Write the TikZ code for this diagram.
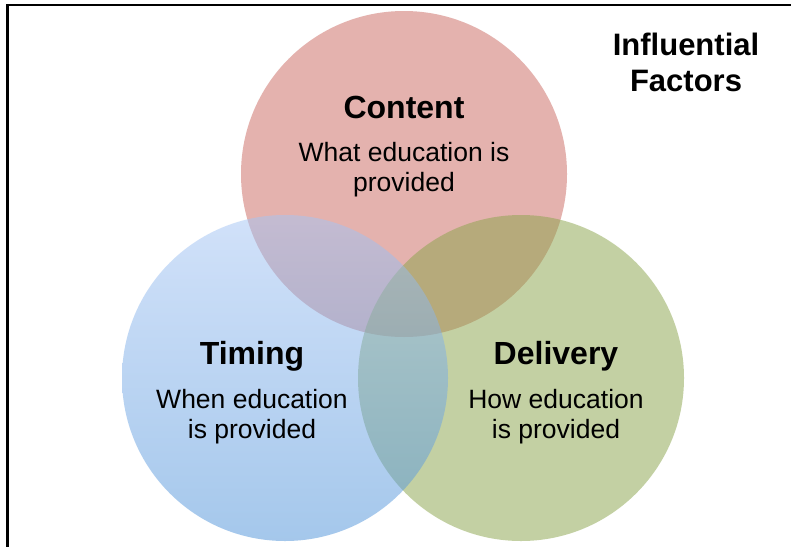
\documentclass[tikz,border=0pt]{standalone}
\usepackage{fontspec}
\setmainfont{Liberation Sans}
\definecolor{contentfill}{RGB}{228,178,174}
\definecolor{deliverybase}{RGB}{137,163,73}
\definecolor{timingtop}{RGB}{165,197,245}
\definecolor{timingbot}{RGB}{75,145,217}
\tikzset{
  venn/.style={circle, minimum size=326pt, inner sep=0pt, draw=none},
  titletext/.style={font=\bfseries\fontsize{32}{36}\selectfont, anchor=base, inner sep=0pt},
  bodytext/.style={font=\fontsize{26.5}{29.5}\selectfont, align=center, anchor=base, inner sep=0pt},
  headtext/.style={font=\bfseries\fontsize{31}{36}\selectfont, align=center, anchor=base, inner sep=0pt},
}
\begin{document}
\begin{tikzpicture}[x=1pt,y=-1pt]
\useasboundingbox (0,0) rectangle (791,546);
\clip (0,0) rectangle (791,546);
\fill[white] (0,0) rectangle (791,546);
\draw[line width=2.6pt] (7.5,600) -- (7.5,4.8) -- (900,4.8);
\node[venn, fill=contentfill] (content) at (404,174) {};
\node[venn, fill=deliverybase, fill opacity=0.5] (delivery) at (521,378) {};
\node[venn, top color=timingtop, bottom color=timingbot, fill opacity=0.5] (timing) at (285,378) {};
\node[titletext] (contentT) at (404,118.5) {Content};
\node[bodytext] (contentB) at (404,191) {What education is\\provided};
\node[titletext] (timingT) at (252,364.5) {Timing};
\node[bodytext] (timingB) at (252,438) {When education\\is provided};
\node[titletext] (deliveryT) at (556,364.5) {Delivery};
\node[bodytext] (deliveryB) at (556,438) {How education\\is provided};
\node[headtext] (head) at (686,91) {Influential\\Factors};
\end{tikzpicture}
\end{document}
